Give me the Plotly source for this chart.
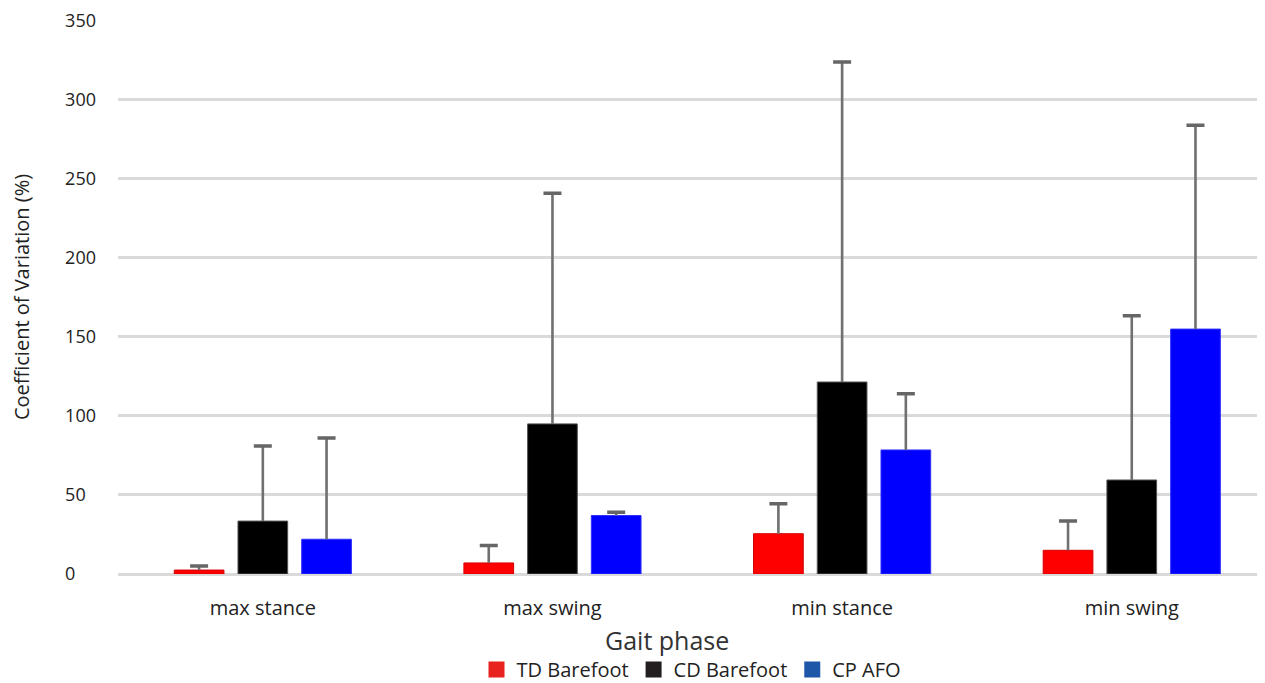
import plotly.graph_objects as go

categories = ["max stance", "max swing", "min stance", "min swing"]
series_names = ["TD Barefoot", "CD Barefoot", "CP AFO"]
td_values = [2.5, 7, 25.5, 15]
td_err = [2.5, 11, 19, 18.5]
cd_values = [33.5, 95, 121.5, 59.5]
cd_err = [47.5, 146, 202.5, 104]
afo_values = [22, 37, 78.5, 155]
afo_err = [64, 2, 35.5, 129]
bar_colors = ["#ff0000", "#000000", "#0000ff"]
bar_edges = ["#d40000", "#555555", "#3030ff"]
legend_colors = ["#e8231f", "#231f20", "#1f57a8"]
ytick_vals = [0, 50, 100, 150, 200, 250, 300, 350]
ytick_text = ["0\u2007\u2007", "50\u2007", "100", "150", "200", "250", "300", "350"]

FONT = "Open Sans"
ERR_COLOR = "#707070"
fig = go.Figure()
for name, vals, col, edge in zip(series_names, [td_values, cd_values, afo_values],
                                 bar_colors, bar_edges):
    fig.add_trace(go.Bar(
        x=categories, y=vals, name=name, showlegend=False, offsetgroup=name,
        marker=dict(color=col, line=dict(width=1, color=edge)),
    ))
# error bars (upper only): thin stem bars sitting on top of each bar, capped
for name, vals, errs in zip(series_names, [td_values, cd_values, afo_values],
                            [td_err, cd_err, afo_err]):
    fig.add_trace(go.Bar(
        x=categories, y=errs, base=vals, name=name + " SD", showlegend=False,
        offsetgroup=name, width=0.009, hoverinfo="skip",
        marker=dict(color=ERR_COLOR, line=dict(width=0)),
        error_y=dict(type="data", array=[0] * len(errs), color="#666666",
                     thickness=3.5, width=9),
    ))
for name, col in zip(series_names, legend_colors):
    fig.add_trace(go.Scatter(
        x=[None], y=[None], mode="markers", name=name,
        marker=dict(symbol="square", size=22, color=col),
    ))

fig.update_layout(
    width=1257, height=675,
    margin=dict(l=110, r=0, t=12, b=109),
    paper_bgcolor="white", plot_bgcolor="white",
    barmode="group", bargap=0.34, bargroupgap=0.22,
    font=dict(family=FONT, color="#222222"),
    showlegend=True,
    legend=dict(orientation="h", x=0.5, xanchor="center",
                yref="container", y=0.02, yanchor="middle",
                font=dict(size=20, family=FONT, color="#222222"),
                itemwidth=30, tracegroupgap=0),
    xaxis=dict(
        range=[-0.5, 3.46], automargin=False,
        showgrid=False, showline=False, zeroline=False,
        tickfont=dict(size=20, family=FONT, color="#222222"),
        ticklabelstandoff=20,
    ),
    yaxis=dict(
        range=[0, 350.6], tickvals=ytick_vals, ticktext=ytick_text,
        automargin=False,
        showgrid=True, gridcolor="#dadada", gridwidth=2.5,
        zeroline=True, zerolinecolor="#dadada", zerolinewidth=2.5,
        showline=False,
        tickfont=dict(size=18, family=FONT, color="#222222"),
        ticklabelstandoff=21,
        title=dict(text="Coefficient of Variation (%)",
                   font=dict(size=20, family=FONT, color="#222222"), standoff=30),
    ),
    annotations=[dict(text="Gait phase", xref="paper", yref="paper",
                      x=0.4786, y=-0.119, xanchor="center", yanchor="middle",
                      showarrow=False,
                      font=dict(size=25, family=FONT, color="#333333"))],
)

fig.write_html("out.html")
